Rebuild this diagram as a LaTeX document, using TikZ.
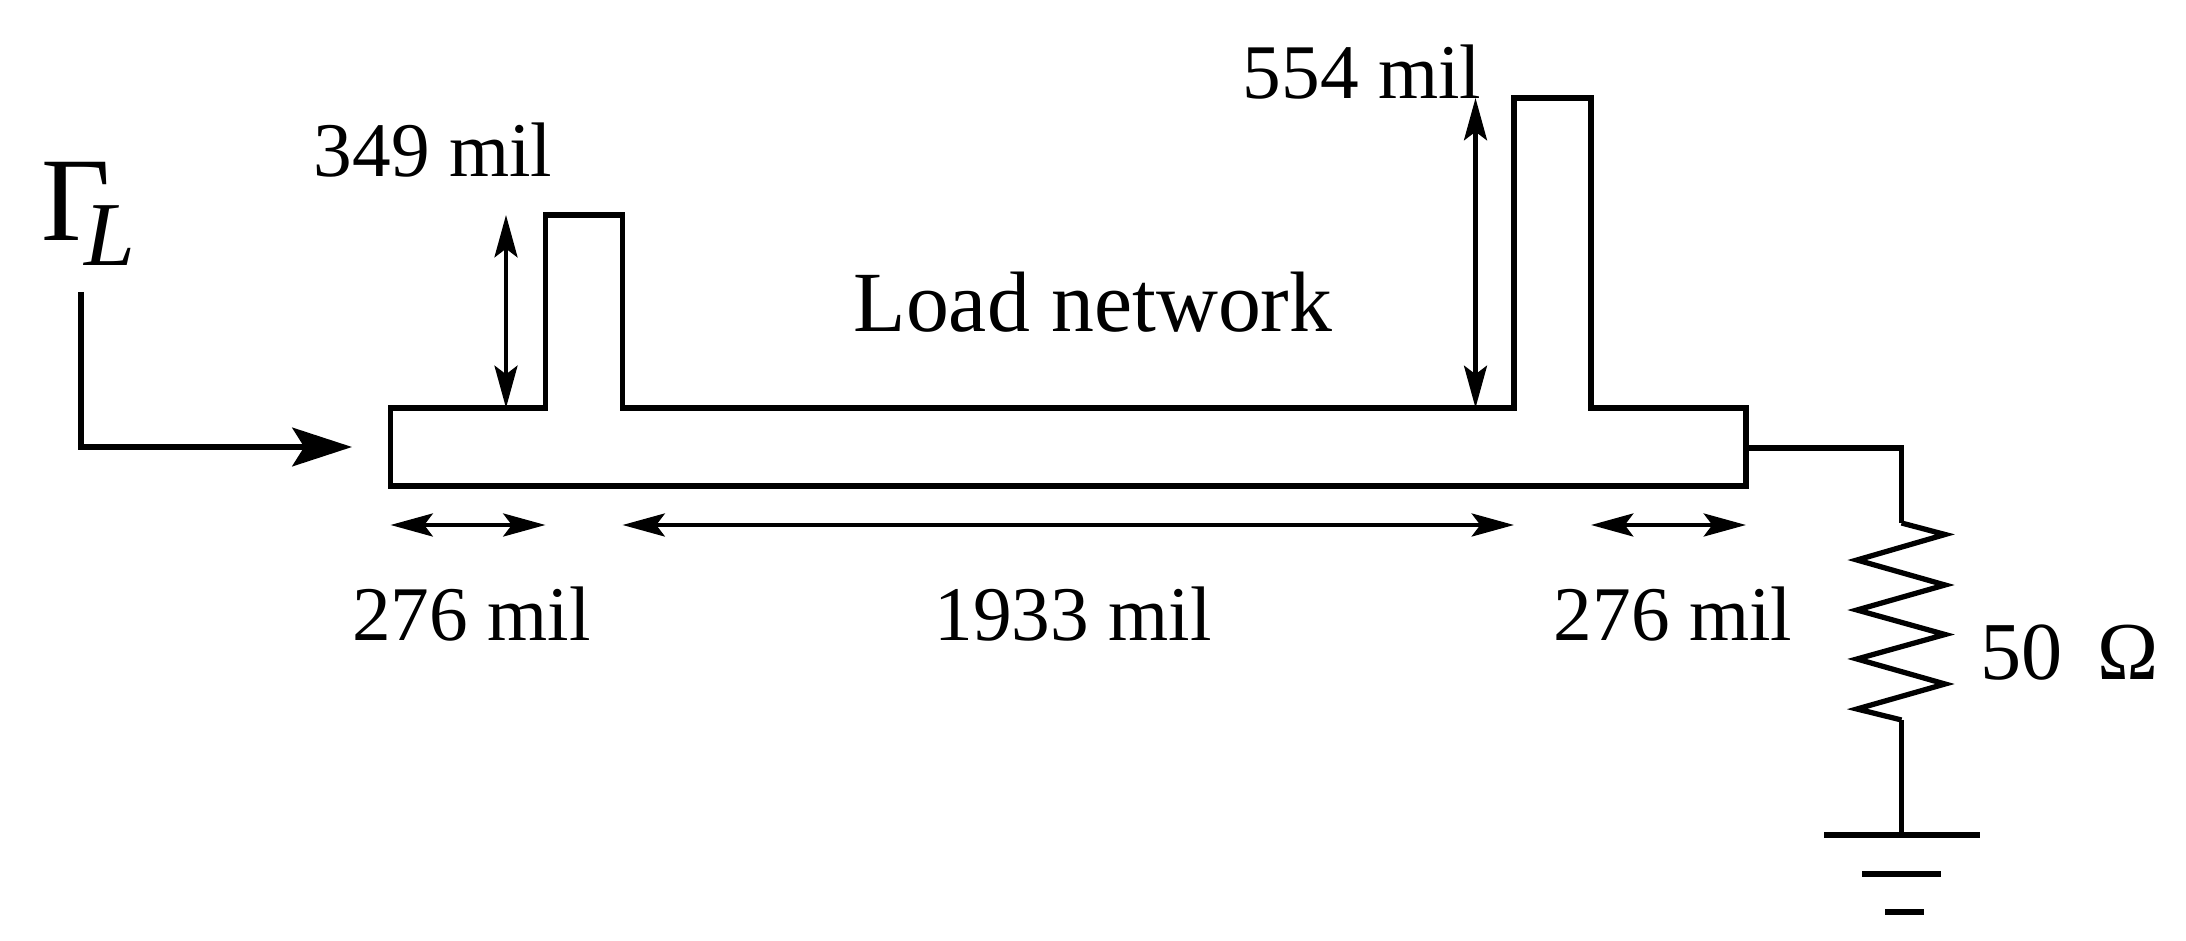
\documentclass[tikz,border=0pt]{standalone}
\usepackage{fontspec}
\setmainfont{Liberation Serif}
\usetikzlibrary{arrows.meta}
\tikzset{
    strip/.style={line width=1.5pt, line join=miter},
    wire/.style={line width=1.5pt, line join=miter},
    dimArrow/.style={line width=1.4pt, {Stealth[length=12pt,width=6.5pt,inset=2.4pt]}-{Stealth[length=12pt,width=6.5pt,inset=2.4pt]}},
    feedArrow/.style={line width=1.5pt, -{Stealth[length=17pt,width=11pt,inset=3.4pt]}},
    lbl/.style={font=\fontsize{22}{26}\selectfont, inner sep=0pt, anchor=base}
}

\begin{document}
\begin{tikzpicture}[x=0.1mm,y=-0.1mm]
    \useasboundingbox (0,0) rectangle (2186,941);
    % microstrip outline
    \draw[strip] (390.5,408) -- (545.5,408) -- (545.5,215) -- (622.5,215) -- (622.5,408)
        -- (1514,408) -- (1514,98) -- (1591,98) -- (1591,408) -- (1746,408)
        -- (1746,486) -- (390.5,486) -- cycle;
    \coordinate (portIn) at (81,292);
    \coordinate (portTip) at (352,447);
    \draw[feedArrow] (portIn) |- (portTip);
    \coordinate (stubOneTop) at (506,215);
    \coordinate (stubOneBase) at (506,408);
    \coordinate (stubTwoTop) at (1475.5,98);
    \coordinate (stubTwoBase) at (1475.5,408);
    \draw[dimArrow] (stubOneTop) -- (stubOneBase);
    \draw[dimArrow] (stubTwoTop) -- (stubTwoBase);
    \coordinate (dimA) at (390.5,525);
    \coordinate (dimB) at (545.5,525);
    \coordinate (dimC) at (622.5,525);
    \coordinate (dimD) at (1514,525);
    \coordinate (dimE) at (1591,525);
    \coordinate (dimF) at (1746,525);
    \draw[dimArrow] (dimA) -- (dimB);
    \draw[dimArrow] (dimC) -- (dimD);
    \draw[dimArrow] (dimE) -- (dimF);
    % load and ground
    \coordinate (loadIn) at (1746,448);
    \coordinate (resTop) at (1901.5,523);
    \coordinate (resBot) at (1901.5,720);
    \coordinate (gnd) at (1901.5,835);
    \draw[wire] (loadIn) -| (resTop);
    \draw[wire] (resTop) -- (1945,534.5) -- (1857,560) -- (1945,585) -- (1857,610)
        -- (1945,634.5) -- (1857,659) -- (1945,684) -- (1857,709) -- (resBot);
    \draw[wire] (resBot) -- (gnd);
    \draw[wire] (1824,835) -- (1980,835);
    \draw[wire] (1862,874) -- (1941,874);
    \draw[wire] (1885,912) -- (1923.5,912);
    % labels
    \node[lbl] (stubOneLbl) at (433,177) {349 mil};
    \node[lbl] (stubTwoLbl) at (1362,99) {554 mil};
    \node[lbl, font=\fontsize{24.4}{28}\selectfont] (netLbl) at (1093,332) {Load network};
    \node[lbl] (lenA) at (471.5,641) {276 mil};
    \node[lbl] (lenB) at (1073,641) {1933 mil};
    \node[lbl] (lenC) at (1673,641) {276 mil};
    \node[lbl, anchor=base west, font=\fontsize{23.4}{28}\selectfont] (resLbl) at (1980,680) {50\hspace{.42em}Ω};
    \node[inner sep=0pt, anchor=base west] (gammaLbl) at (41,240.7)
        {\fontsize{34}{38}\selectfont Γ\kern-7.4pt\raisebox{-7pt}{\fontsize{26}{28}\selectfont\itshape L}};
\end{tikzpicture}
\end{document}
